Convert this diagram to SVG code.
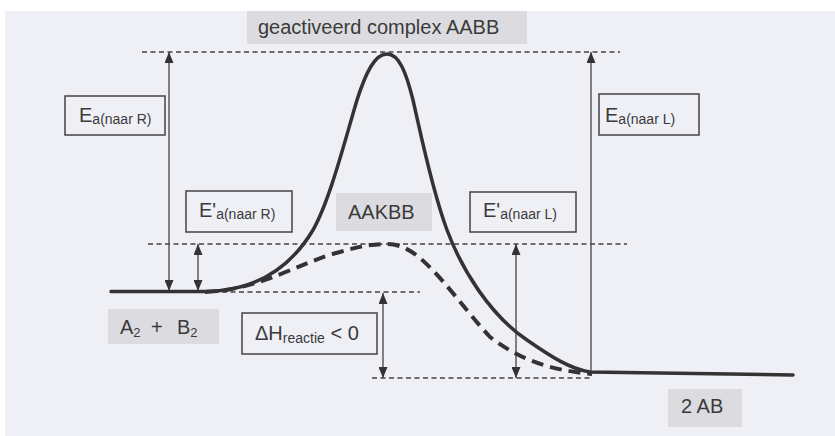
<svg xmlns="http://www.w3.org/2000/svg" width="835" height="436" viewBox="0 0 835 436">
<style>
.bg{fill:#efeff6}
.gbox{fill:#dcdce0;stroke:none}
.box{fill:none;stroke:#444;stroke-width:1.5}
.t{font-family:"Liberation Sans",Arial,sans-serif;fill:#3a3a3a;font-size:20px}
.sub{font-size:14px}
.sub2{font-size:13px}
.dash{fill:none;stroke:#444;stroke-width:1.4;stroke-dasharray:5 3.5}
.arr{fill:none;stroke:#444;stroke-width:1.3}
.curve{fill:none;stroke:#333;stroke-width:3.5;stroke-linecap:round;stroke-linejoin:round}
.dcurve{fill:none;stroke:#333;stroke-width:4;stroke-dasharray:12 7}
</style>
<defs>
<marker id="ah" markerUnits="userSpaceOnUse" markerWidth="11" markerHeight="9" refX="11" refY="4.5" orient="auto-start-reverse">
<path d="M0,0 L11,4.5 L0,9 z" fill="#333"/>
</marker>
</defs>
<rect x="0" y="0" width="835" height="436" fill="#ffffff"/>
<rect class="bg" x="5" y="11" width="830" height="425"/>

<g id="connectors">
<line class="dash" x1="142" y1="52" x2="620" y2="52"/>
<line class="dash" x1="148" y1="244" x2="627" y2="244"/>
<line class="dash" x1="205" y1="292" x2="420" y2="292"/>
<line class="dash" x1="372" y1="378" x2="592" y2="378"/>
<line class="arr" x1="169" y1="291" x2="169" y2="52" marker-start="url(#ah)" marker-end="url(#ah)"/>
<line class="arr" x1="198" y1="291" x2="198" y2="244" marker-start="url(#ah)" marker-end="url(#ah)"/>
<line class="arr" x1="591" y1="373" x2="591" y2="52" marker-end="url(#ah)"/>
<line class="arr" x1="516" y1="378" x2="516" y2="244" marker-start="url(#ah)" marker-end="url(#ah)"/>
<line class="arr" x1="383" y1="378" x2="383" y2="293" marker-start="url(#ah)" marker-end="url(#ah)"/>
</g>

<g id="curves">
<path class="curve" d="M111,291.5 L205,291.5 C250,291 288,272 313,230 C330,200 345,140 357,100 C366,72 375,54 387,54 C399,54 406,72 413,100 C421,135 432,190 447,230 C462,270 490,315 527,340 C550,356 570,369 590,372 L793,375"/>
<path class="dcurve" d="M205,292 C260,290 300,262 340,252 C360,246 372,244 387,244 C400,244 410,250 420,258 C445,280 465,310 490,337 C520,360 550,370 592,374"/>
</g>

<g id="top-complex">
<rect class="gbox" x="247" y="11" width="280" height="33"/>
<text class="t" x="258" y="34">geactiveerd complex AABB</text>
</g>

<g id="ea-naar-r">
<rect class="box" x="65" y="96" width="100" height="39"/>
<text class="t" x="79" y="122">E<tspan class="sub" dy="2">a(naar R)</tspan></text>
</g>

<g id="ea-naar-l">
<rect class="box" x="599" y="94" width="100" height="41"/>
<text class="t" x="605" y="122">E<tspan class="sub" dy="2">a(naar L)</tspan></text>
</g>

<g id="eprime-naar-r">
<rect class="box" x="186" y="191" width="106" height="41"/>
<text class="t" x="199" y="217">E'<tspan class="sub" dy="2">a(naar R)</tspan></text>
</g>

<g id="eprime-naar-l">
<rect class="box" x="470" y="192" width="106" height="40"/>
<text class="t" x="483" y="217">E'<tspan class="sub" dy="2">a(naar L)</tspan></text>
</g>

<g id="aakbb">
<rect class="gbox" x="336" y="193" width="96" height="38"/>
<text class="t" x="348" y="219">AAKBB</text>
</g>

<g id="reactants">
<rect class="gbox" x="108" y="309" width="111" height="35"/>
<text class="t" x="120" y="334">A<tspan class="sub2" dy="3">2</tspan><tspan x="151" dy="-3">+</tspan><tspan x="177">B</tspan><tspan class="sub2" dy="3">2</tspan></text>
</g>

<g id="delta-h">
<rect class="box" x="242" y="313" width="135" height="41"/>
<text class="t" x="255" y="340">ΔH<tspan class="sub" dy="3">reactie</tspan><tspan dy="-3"> &lt; 0</tspan></text>
</g>

<g id="products">
<rect class="gbox" x="668" y="389" width="74" height="38"/>
<text class="t" x="681" y="413">2 AB</text>
</g>
</svg>
